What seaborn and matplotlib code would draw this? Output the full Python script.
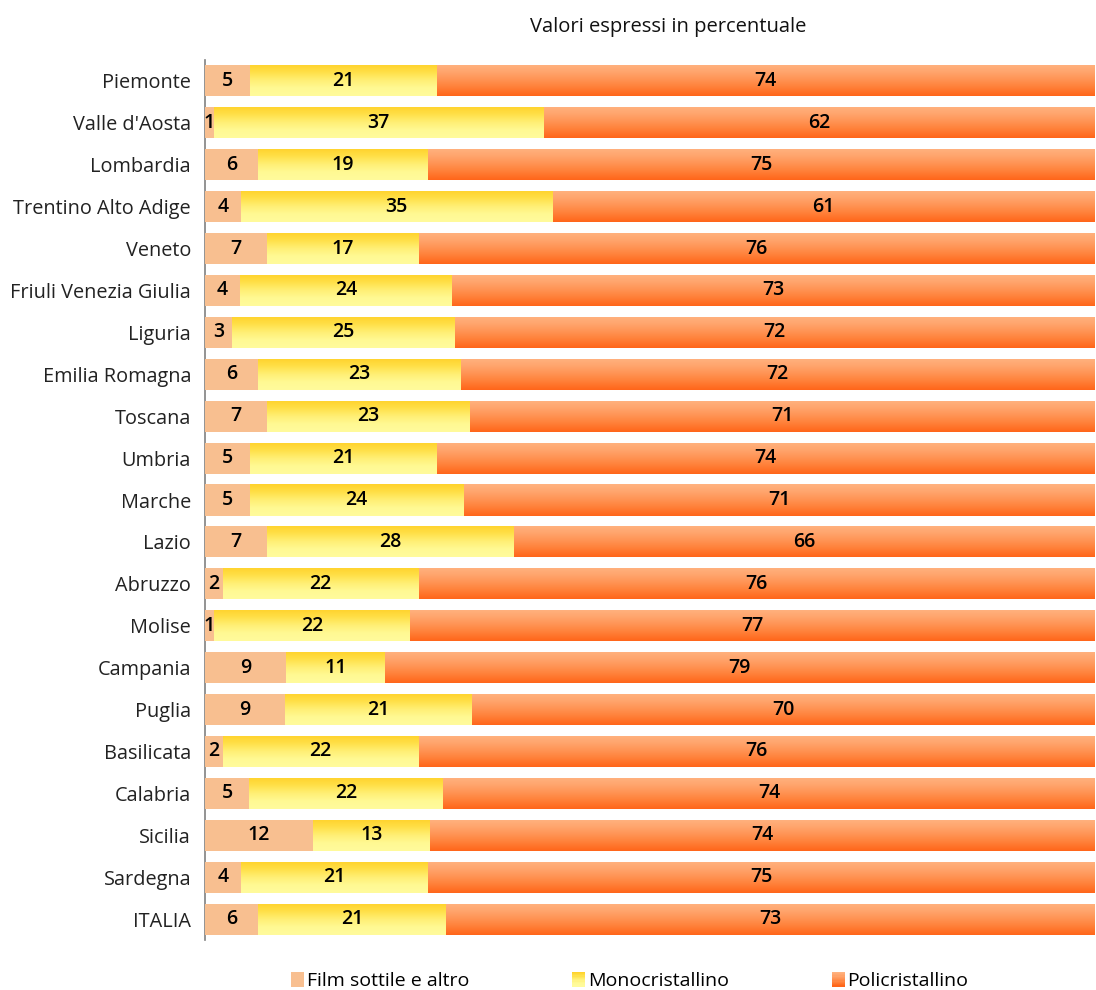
import numpy as np
import pandas as pd
import matplotlib
matplotlib.use("Agg")
import matplotlib.pyplot as plt
from matplotlib.colors import LinearSegmentedColormap
from matplotlib.legend_handler import HandlerBase
from matplotlib.patches import Rectangle
import seaborn as sns

regioni = ["Piemonte", "Valle d'Aosta", "Lombardia", "Trentino Alto Adige", "Veneto",
           "Friuli Venezia Giulia", "Liguria", "Emilia Romagna", "Toscana", "Umbria",
           "Marche", "Lazio", "Abruzzo", "Molise", "Campania", "Puglia", "Basilicata",
           "Calabria", "Sicilia", "Sardegna", "ITALIA"]
film = [5, 1, 6, 4, 7, 4, 3, 6, 7, 5, 5, 7, 2, 1, 9, 9, 2, 5, 12, 4, 6]
mono = [21, 37, 19, 35, 17, 24, 25, 23, 23, 21, 24, 28, 22, 22, 11, 21, 22, 22, 13, 21, 21]
poli = [74, 62, 75, 61, 76, 73, 72, 72, 71, 74, 71, 66, 76, 77, 79, 70, 76, 74, 74, 75, 73]

serie = ["Film sottile e altro", "Monocristallino", "Policristallino"]

# colori (alto -> basso per i gradienti)
c_film = "#F8BF90"
grad_mono = ["#FFD22C", "#FFE048", "#FFEF74", "#FFF993", "#FFFB9C"]
grad_poli = ["#FFB27F", "#FFA46C", "#FF9252", "#FF7E36", "#FF661A"]

df = pd.DataFrame({"regione": regioni, "film": film, "mono": mono, "poli": poli})
tot = df["film"] + df["mono"] + df["poli"]
# grafico a barre in percentuale: ogni riga riempie il 100%
df["c1"] = df["film"] / tot * 100
df["c2"] = (df["film"] + df["mono"]) / tot * 100
df["c3"] = 100.0

plt.rcParams["font.family"] = ["Open Sans", "DejaVu Sans"]
fig = plt.figure(figsize=(10.96, 9.9), dpi=100)
ax = fig.add_axes([205 / 1096, 1 - 940 / 990, 890 / 1096, 880 / 990])

sns.barplot(data=df, y="regione", x="c3", color=grad_poli[-1], width=0.74, ax=ax,
            orient="h", saturation=1)
sns.barplot(data=df, y="regione", x="c2", color=grad_mono[0], width=0.74, ax=ax,
            orient="h", saturation=1)
sns.barplot(data=df, y="regione", x="c1", color=c_film, width=0.74, ax=ax,
            orient="h", saturation=1)

cmaps = [LinearSegmentedColormap.from_list("poli", grad_poli),
         LinearSegmentedColormap.from_list("mono", grad_mono)]
grad = np.linspace(0, 1, 64).reshape(-1, 1)
for i, cont in enumerate(ax.containers):
    for p in cont:
        p.set_zorder(1 + i)
        p.set_linewidth(0)
        if i < 2:
            p.set_facecolor("none")
            x0, y0, w, h = p.get_x(), p.get_y(), p.get_width(), p.get_height()
            im = ax.imshow(grad, cmap=cmaps[i], aspect="auto", origin="upper",
                           extent=(x0, x0 + w, y0 + h, y0), zorder=1 + i,
                           interpolation="bilinear")
            im.set_clip_path(p)

ax.set_xlim(0, 100)
ax.set_ylim(len(regioni) - 0.5, -0.5)

# etichette dei valori al centro dei segmenti
starts = [np.zeros(len(df)), df["c1"].values, df["c2"].values]
ends = [df["c1"].values, df["c2"].values, df["c3"].values]
vals = [film, mono, poli]
for k in range(3):
    for j in range(len(df)):
        ax.text((starts[k][j] + ends[k][j]) / 2, j, str(vals[k][j]), ha="center",
                va="center", fontsize=14, fontweight="semibold", color="black", zorder=5)

ax.set_xlabel("")
ax.set_ylabel("")
ax.set_xticks([])
ax.tick_params(axis="y", length=0, pad=10, labelsize=14.3, colors="#222222")
for s in ["top", "right", "bottom"]:
    ax.spines[s].set_visible(False)
ax.spines["left"].set_color("#808080")
ax.spines["left"].set_linewidth(1.2)

fig.text(668 / 1096, 1 - 27 / 990, "Valori espressi in percentuale", ha="center",
         va="center", fontsize=14.5, color="#111111")


class GradHandler(HandlerBase):
    def __init__(self, colors):
        super().__init__()
        self.colors = colors

    def create_artists(self, legend, orig_handle, xdescent, ydescent, width, height,
                       fontsize, trans):
        cm = LinearSegmentedColormap.from_list("g", self.colors)
        n = 12
        arts = []
        for m in range(n):
            r = Rectangle((-xdescent, -ydescent + height * (n - 1 - m) / n), width,
                          height / n + 0.2, facecolor=cm(m / (n - 1)), linewidth=0,
                          transform=trans)
            arts.append(r)
        return arts


h_film = Rectangle((0, 0), 1, 1, facecolor=c_film, linewidth=0)
h_mono = Rectangle((0, 0), 1, 1, facecolor=grad_mono[0], linewidth=0)
h_poli = Rectangle((0, 0), 1, 1, facecolor=grad_poli[-1], linewidth=0)
fig.legend([h_film, h_mono, h_poli], serie, loc="center",
           bbox_to_anchor=(630 / 1096, 1 - 981 / 990), ncol=3, frameon=False,
           fontsize=14, handlelength=0.65, handleheight=0.8, handletextpad=0.15,
           columnspacing=5.3,
           handler_map={h_mono: GradHandler(grad_mono), h_poli: GradHandler(grad_poli)})

fig.savefig("out.png", dpi=100)
